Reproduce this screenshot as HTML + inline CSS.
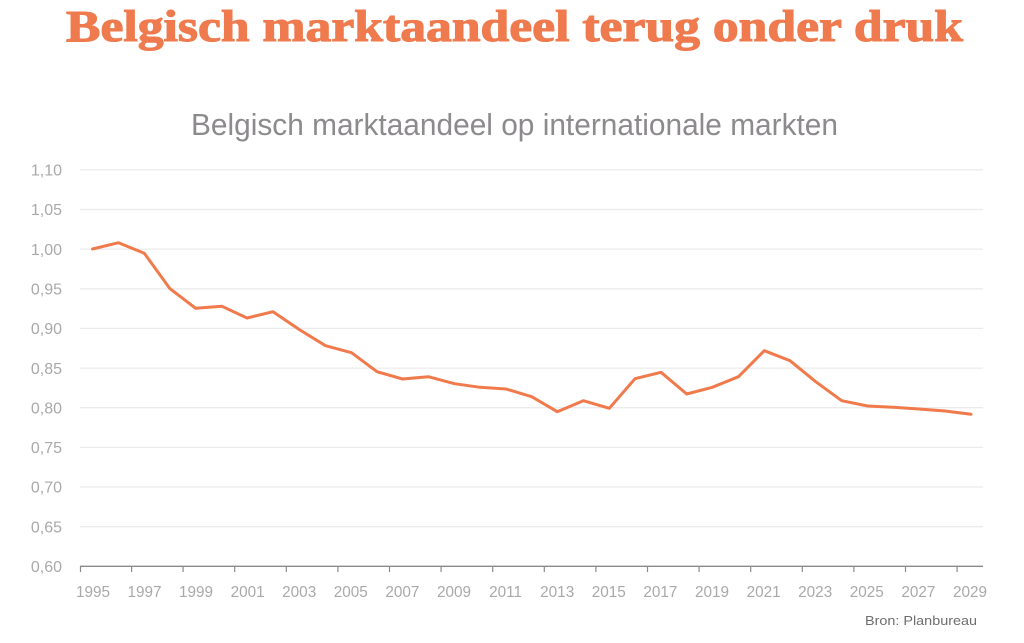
<!DOCTYPE html>
<html><head><meta charset="utf-8"><style>
html,body{margin:0;padding:0;background:#fff;}
svg{display:block;}
</style></head><body>
<svg width="1024" height="643" viewBox="0 0 1024 643" xmlns="http://www.w3.org/2000/svg">
<rect width="1024" height="643" fill="#fff"/>
<text x="66" y="41" font-family="Liberation Serif, serif" font-weight="bold" font-size="44" fill="#ef7a4e" stroke="#ef7a4e" stroke-width="1.1" textLength="897" lengthAdjust="spacingAndGlyphs">Belgisch marktaandeel terug onder druk</text>
<text x="191" y="135" font-family="Liberation Sans, sans-serif" font-size="31" fill="#8d8a8d" textLength="647" lengthAdjust="spacingAndGlyphs">Belgisch marktaandeel op internationale markten</text>
<g stroke="#ebebeb" stroke-width="1.3">
<line x1="80" y1="169.8" x2="983" y2="169.8"/>
<line x1="80" y1="209.5" x2="983" y2="209.5"/>
<line x1="80" y1="249.1" x2="983" y2="249.1"/>
<line x1="80" y1="288.8" x2="983" y2="288.8"/>
<line x1="80" y1="328.4" x2="983" y2="328.4"/>
<line x1="80" y1="368.1" x2="983" y2="368.1"/>
<line x1="80" y1="407.7" x2="983" y2="407.7"/>
<line x1="80" y1="447.4" x2="983" y2="447.4"/>
<line x1="80" y1="487.0" x2="983" y2="487.0"/>
<line x1="80" y1="526.7" x2="983" y2="526.7"/>
</g>
<line x1="80" y1="566.3" x2="983" y2="566.3" stroke="#8a8a8a" stroke-width="1.3"/>
<g stroke="#8a8a8a" stroke-width="1.2">
<line x1="80.5" y1="566" x2="80.5" y2="572"/>
<line x1="131.6" y1="566" x2="131.6" y2="572"/>
<line x1="183.1" y1="566" x2="183.1" y2="572"/>
<line x1="234.7" y1="566" x2="234.7" y2="572"/>
<line x1="286.3" y1="566" x2="286.3" y2="572"/>
<line x1="337.9" y1="566" x2="337.9" y2="572"/>
<line x1="389.5" y1="566" x2="389.5" y2="572"/>
<line x1="441.1" y1="566" x2="441.1" y2="572"/>
<line x1="492.7" y1="566" x2="492.7" y2="572"/>
<line x1="544.3" y1="566" x2="544.3" y2="572"/>
<line x1="595.9" y1="566" x2="595.9" y2="572"/>
<line x1="647.5" y1="566" x2="647.5" y2="572"/>
<line x1="699.1" y1="566" x2="699.1" y2="572"/>
<line x1="750.7" y1="566" x2="750.7" y2="572"/>
<line x1="802.3" y1="566" x2="802.3" y2="572"/>
<line x1="853.9" y1="566" x2="853.9" y2="572"/>
<line x1="905.5" y1="566" x2="905.5" y2="572"/>
<line x1="957.1" y1="566" x2="957.1" y2="572"/>
</g>
<g font-family="Liberation Sans, sans-serif" font-size="16" fill="#a9a9a9" text-anchor="end">
<text x="62" y="175.5">1,10</text>
<text x="62" y="215.2">1,05</text>
<text x="62" y="254.8">1,00</text>
<text x="62" y="294.5">0,95</text>
<text x="62" y="334.1">0,90</text>
<text x="62" y="373.8">0,85</text>
<text x="62" y="413.4">0,80</text>
<text x="62" y="453.1">0,75</text>
<text x="62" y="492.7">0,70</text>
<text x="62" y="532.4">0,65</text>
<text x="62" y="572">0,60</text>
</g>
<g font-family="Liberation Sans, sans-serif" font-size="15.3" fill="#a9a9a9" text-anchor="middle">
<text x="93" y="597">1995</text>
<text x="144.5" y="597">1997</text>
<text x="196" y="597">1999</text>
<text x="247.6" y="597">2001</text>
<text x="299.2" y="597">2003</text>
<text x="350.8" y="597">2005</text>
<text x="402.4" y="597">2007</text>
<text x="454" y="597">2009</text>
<text x="505.6" y="597">2011</text>
<text x="557.2" y="597">2013</text>
<text x="608.8" y="597">2015</text>
<text x="660.4" y="597">2017</text>
<text x="712" y="597">2019</text>
<text x="763.6" y="597">2021</text>
<text x="815.2" y="597">2023</text>
<text x="866.8" y="597">2025</text>
<text x="918.4" y="597">2027</text>
<text x="970" y="597">2029</text>
</g>
<polyline fill="none" stroke="#f07a4c" stroke-width="3" stroke-linejoin="round" stroke-linecap="round" points="92.5,249 118.5,242.7 144.3,253.3 170,288.7 195.7,308.3 222,306.3 247,318 273,311.7 300,330 325.5,345.7 351.5,352.7 377,371.7 402.5,379 428.3,376.7 454.5,383.7 480,387.3 506,389 531.7,396.7 557.3,411.7 583.3,400.7 609.3,408.3 635,378.7 661,372.3 686.7,394 712.3,387.3 738.5,376.7 764.3,350.7 790,360.7 815.7,381.7 841.7,400.7 867.7,406 893.3,407.3 918.8,409 945,411 971,414.3"/>
<text x="977" y="625" font-family="Liberation Sans, sans-serif" font-size="13" fill="#6e6e6e" text-anchor="end" textLength="112" lengthAdjust="spacingAndGlyphs">Bron: Planbureau</text>
</svg>
</body></html>
